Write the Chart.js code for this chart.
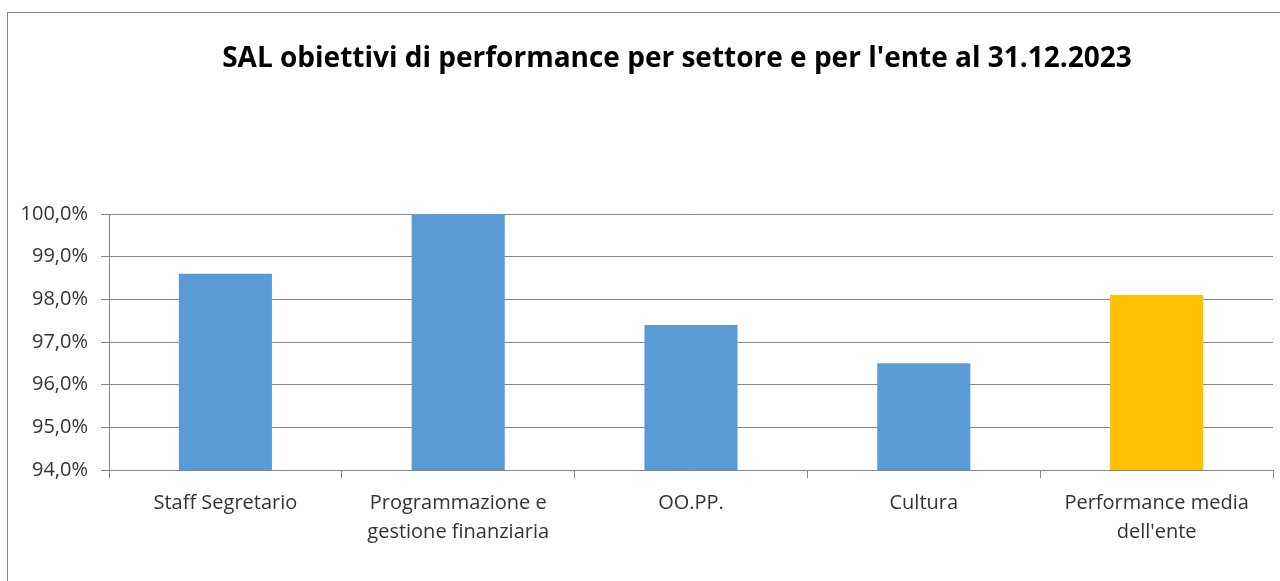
<!DOCTYPE html>
<html>
<head>
<meta charset="utf-8">
<title>SAL obiettivi di performance</title>
<script src="https://cdn.jsdelivr.net/npm/chart.js@4"></script>
<style>
  html, body { margin: 0; padding: 0; background: #fff; overflow: hidden; }
  #frame {
    position: absolute;
    left: 7px;
    top: 12px;
    width: 1338px;
    height: 568px;
    border: 1px solid #868686;
  }
</style>
</head>
<body>
<div id="frame">
  <canvas id="chart" width="1338" height="568"></canvas>
</div>
<script>
// Categories (multi-line labels as arrays)
const categories = [
    'Staff Segretario',
    ['Programmazione e', 'gestione finanziaria'],
    'OO.PP.',
    'Cultura',
    ['Performance media', "dell'ente"]
];

// SAL percentage per settore
const salValues = [98.6, 100.0, 97.4, 96.5, 98.1];

const barColors = ['#5B9BD5', '#5B9BD5', '#5B9BD5', '#5B9BD5', '#FFC000'];

// y axis range
const yMin = 94;
const yMax = 100;
const yStep = 1;

const gridColor = '#868686';
const textColor = '#333333';

const ctx = document.getElementById('chart').getContext('2d');

new Chart(ctx, {
    type: 'bar',
    data: {
        labels: categories,
        datasets: [{
            data: salValues,
            backgroundColor: barColors,
            borderWidth: 0,
            barPercentage: 0.4,
            categoryPercentage: 1.0
        }]
    },
    options: {
        responsive: false,
        animation: false,
        layout: {
            padding: 0
        },
        plugins: {
            legend: { display: false },
            tooltip: { enabled: false },
            title: {
                display: true,
                text: "SAL obiettivi di performance per settore e per l'ente al 31.12.2023",
                color: '#000',
                font: { family: 'Open Sans', size: 28, weight: 'bold', lineHeight: 1.2 },
                padding: { top: 29, bottom: 138.4 }
            }
        },
        scales: {
            x: {
                offset: true,
                grid: {
                    offset: true,
                    drawOnChartArea: false,
                    drawTicks: true,
                    tickLength: 8,
                    color: gridColor
                },
                border: { display: true, color: gridColor, width: 1 },
                ticks: {
                    color: textColor,
                    padding: 11,
                    maxRotation: 0,
                    autoSkip: false,
                    font: { family: 'Open Sans', size: 20, lineHeight: 1.45 }
                },
                afterFit: (scale) => { scale.height = 111; }
            },
            y: {
                min: yMin,
                max: yMax,
                ticks: {
                    stepSize: yStep,
                    color: textColor,
                    padding: 13,
                    font: { family: 'Open Sans', size: 20 },
                    callback: (value) => value.toFixed(1).replace('.', ',') + '%'
                },
                grid: {
                    color: gridColor,
                    tickLength: 8
                },
                border: { display: true, color: gridColor, width: 1 },
                afterFit: (scale) => { scale.width = 101; }
            },
            // empty right-hand spacer so the plot ends before the frame edge
            // while the title stays centred on the whole frame
            yRight: {
                position: 'right',
                min: yMin,
                max: yMax,
                grid: { display: false },
                border: { display: false },
                ticks: { display: false },
                afterFit: (scale) => { scale.width = 73; }
            }
        }
    }
});
</script>
</body>
</html>
